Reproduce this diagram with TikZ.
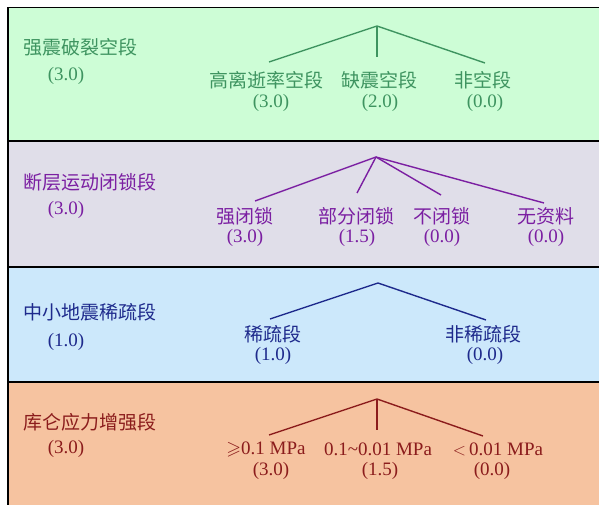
\documentclass[tikz,border=0pt]{standalone}
\usepackage{amssymb}
\usepackage{fontspec}
\setmainfont{Liberation Serif}
\newfontfamily\cjk{Noto Sans CJK SC}
\definecolor{bgGreen}{HTML}{CDFDD6}
\definecolor{bgGray}{HTML}{E0DEE9}
\definecolor{bgBlue}{HTML}{CCE8FB}
\definecolor{bgOrange}{HTML}{F6C3A0}
\definecolor{fgGreen}{HTML}{3E9460}
\definecolor{fgPurple}{HTML}{7B1FA2}
\definecolor{fgBlue}{HTML}{1E2A8C}
\definecolor{fgRed}{HTML}{8B1C1C}
\tikzset{
  cjklbl/.style={font=\cjk\fontsize{19}{22}\selectfont, inner sep=0pt},
  numlbl/.style={font=\fontsize{19}{22}\selectfont, inner sep=0pt},
  title/.style={cjklbl, anchor=west},
  branch/.style={line width=1.4pt},
  frame/.style={line width=1.8pt, draw=black}
}
\begin{document}
\begin{tikzpicture}[x=1pt,y=-1pt]
\useasboundingbox (0,0) rectangle (599,505);
% bands
\fill[bgGreen] (8,7.5) rectangle (599,141);
\fill[bgGray] (8,141) rectangle (599,267);
\fill[bgBlue] (8,267) rectangle (599,382);
\fill[bgOrange] (8,382) rectangle (599,505);
\draw[frame] (8,505) -- (8,7.5) -- (599,7.5);
\draw[frame] (8,141) -- (599,141);
\draw[frame] (8,267) -- (599,267);
\draw[frame] (8,382) -- (599,382);

% ---- band 1: green
\begin{scope}[text=fgGreen, draw=fgGreen]
\node[title] (t1) at (23,47) {强震破裂空段};
\node[numlbl] (s1) at (66,76) {(3.0)};
\coordinate (g0) at (377,26);
\coordinate (g1) at (269,62);
\coordinate (g2) at (377,57);
\coordinate (g3) at (485,63);
\draw[branch] (g0) -- (g1);
\draw[branch] (g0) -- (g2);
\draw[branch] (g0) -- (g3);
\node[cjklbl] (ga) at (266,80) {高离逝率空段};
\node[cjklbl] (gb) at (379,80) {缺震空段};
\node[cjklbl] (gc) at (483,80) {非空段};
\node[numlbl] (gan) at (271,103) {(3.0)};
\node[numlbl] (gbn) at (380,103) {(2.0)};
\node[numlbl] (gcn) at (485,103) {(0.0)};
\end{scope}

% ---- band 2: purple
\begin{scope}[text=fgPurple, draw=fgPurple]
\node[title] (t2) at (23,182) {断层运动闭锁段};
\node[numlbl] (s2) at (66,210) {(3.0)};
\coordinate (p0) at (376,157);
\coordinate (p1) at (255,201);
\coordinate (p2) at (357,193);
\coordinate (p3) at (441,195);
\coordinate (p4) at (544,203);
\draw[branch] (p0) -- (p1);
\draw[branch] (p0) -- (p2);
\draw[branch] (p0) -- (p3);
\draw[branch] (p0) -- (p4);
\node[cjklbl] (pa) at (245,216) {强闭锁};
\node[cjklbl] (pb) at (356,216) {部分闭锁};
\node[cjklbl] (pc) at (442,216) {不闭锁};
\node[cjklbl] (pd) at (546,216) {无资料};
\node[numlbl] (pan) at (245,238) {(3.0)};
\node[numlbl] (pbn) at (357,238) {(1.5)};
\node[numlbl] (pcn) at (442,238) {(0.0)};
\node[numlbl] (pdn) at (546,238) {(0.0)};
\end{scope}

% ---- band 3: blue
\begin{scope}[text=fgBlue, draw=fgBlue]
\node[title] (t3) at (23,312) {中小地震稀疏段};
\node[numlbl] (s3) at (66,342) {(1.0)};
\coordinate (b0) at (378,283);
\coordinate (b1) at (270,319);
\coordinate (b2) at (486,320);
\draw[branch] (b0) -- (b1);
\draw[branch] (b0) -- (b2);
\node[cjklbl] (ba) at (273,334) {稀疏段};
\node[cjklbl] (bb) at (483,334) {非稀疏段};
\node[numlbl] (ban) at (273,356) {(1.0)};
\node[numlbl] (bbn) at (485,356) {(0.0)};
\end{scope}

% ---- band 4: orange
\begin{scope}[text=fgRed, draw=fgRed]
\node[title] (t4) at (23,422) {库仑应力增强段};
\node[numlbl] (s4) at (66,449) {(3.0)};
\coordinate (r0) at (377,399);
\coordinate (r1) at (269,435);
\coordinate (r2) at (377,430);
\coordinate (r3) at (483,436);
\draw[branch] (r0) -- (r1);
\draw[branch] (r0) -- (r2);
\draw[branch] (r0) -- (r3);
\node[numlbl] (ra) at (266,449) {$\geqslant$0.1 MPa};
\node[numlbl] (rb) at (378,449) {0.1\textasciitilde0.01 MPa};
\node[numlbl] (rc) at (498,449) {$<$\,0.01 MPa};
\node[numlbl] (ran) at (271,471) {(3.0)};
\node[numlbl] (rbn) at (380,471) {(1.5)};
\node[numlbl] (rcn) at (492,471) {(0.0)};
\end{scope}
\end{tikzpicture}
\end{document}
